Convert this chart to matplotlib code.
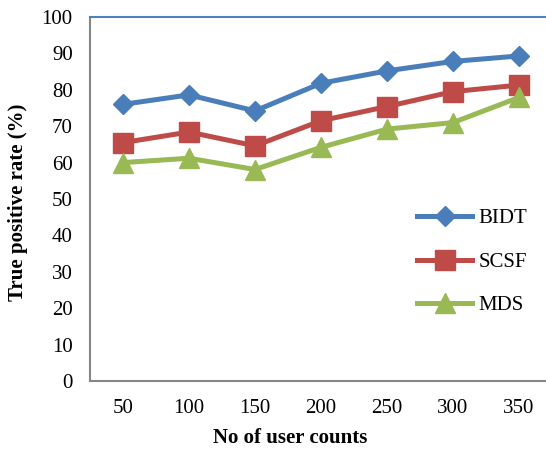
import matplotlib
matplotlib.use("Agg")
import matplotlib.pyplot as plt

# data
user_counts = ["50", "100", "150", "200", "250", "300", "350"]
bidt = [76.0, 78.6, 74.2, 81.8, 85.2, 87.8, 89.3]
scsf = [65.5, 68.4, 64.6, 71.5, 75.4, 79.5, 81.3]
mds = [60.0, 61.2, 58.1, 64.2, 69.2, 71.0, 77.9]

plt.rcParams['font.family'] = ['Liberation Serif', 'DejaVu Serif']

fig = plt.figure(figsize=(5.46, 4.51), dpi=100)
ax = fig.add_axes([90/546, 70/451, 462/546, 364/451])

x = range(len(user_counts))
ax.plot(x, bidt, color='#4A7EBB', lw=3.6, marker='D', ms=10.5, label='BIDT')
ax.plot(x, scsf, color='#BE4B48', lw=3.6, marker='s', ms=14, label='SCSF')
ax.plot(x, mds, color='#98B954', lw=3.6, marker='^', ms=15, label='MDS')

ax.set_xlim(-0.5, len(user_counts) - 0.5)
ax.set_ylim(0, 100)
ax.set_yticks(range(0, 101, 10))
ax.set_xticks(list(x))
ax.set_xticklabels(user_counts)
ax.tick_params(axis='both', length=0, labelsize=15)
ax.tick_params(axis='x', pad=13)
ax.tick_params(axis='y', pad=12.5)

for side in ['left', 'bottom']:
    ax.spines[side].set_color('#868686')
    ax.spines[side].set_linewidth(1.5)
ax.spines['top'].set_color('#4F81BD')
ax.spines['top'].set_linewidth(1.5)
ax.spines['right'].set_visible(False)

ax.set_xlabel('No of user counts', fontsize=15, fontweight='bold')
ax.set_ylabel('True positive rate (%)', fontsize=15, fontweight='bold')
ax.xaxis.set_label_coords(0.433, -0.128)
ax.yaxis.set_label_coords(-0.134, 0.49)

ax.legend(loc='center left', bbox_to_anchor=(417/546, (451-262)/451),
          bbox_transform=fig.transFigure, frameon=False, fontsize=15,
          borderpad=0, borderaxespad=0, labelspacing=1.15,
          handlelength=2.65, handletextpad=0.3)

fig.savefig('out.png', dpi=100)
